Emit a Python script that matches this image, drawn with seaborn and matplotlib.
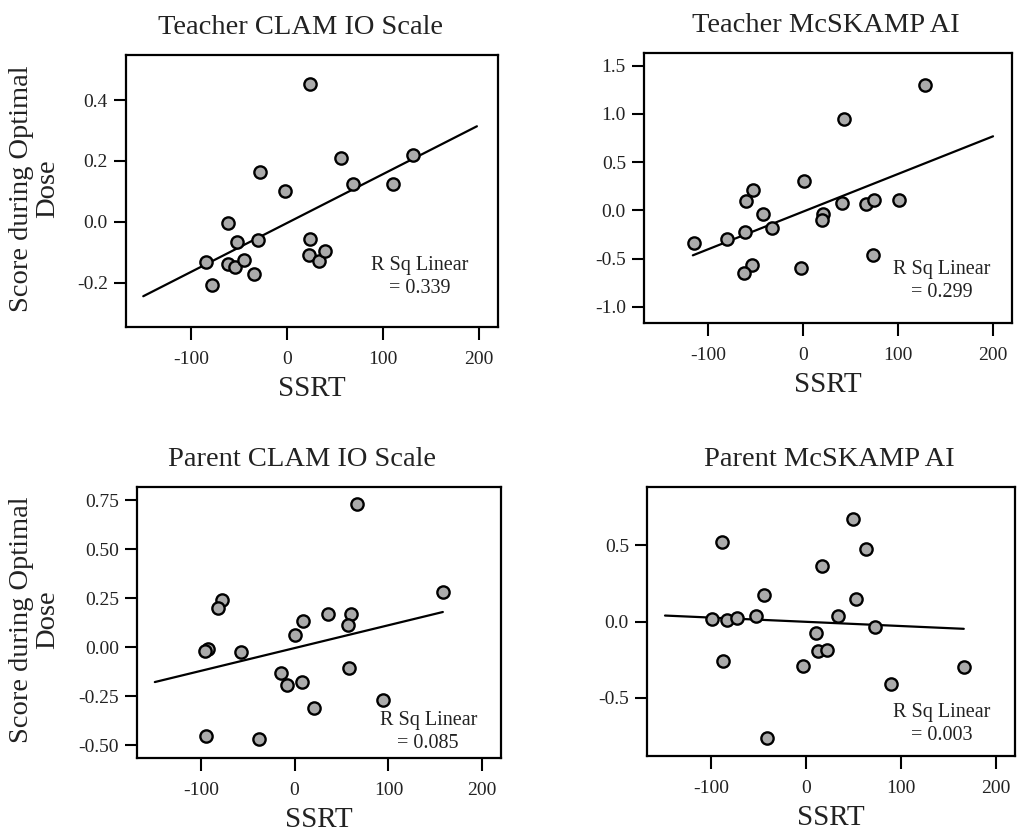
import numpy as np
import pandas as pd
import matplotlib
matplotlib.use("Agg")
import matplotlib.pyplot as plt
import seaborn as sns

# ---------------- data ----------------
titles = ["Teacher CLAM IO Scale", "Teacher McSKAMP AI",
          "Parent CLAM IO Scale", "Parent McSKAMP AI"]
r2_labels = ["0.339", "0.299", "0.085", "0.003"]

tc_x = [24, 131, 56, -28, -2, 69, 111, -62, -52, -30, 24, -85, -62, -54, -45, -35, -78, 23, 33, 40]
tc_y = [0.454, 0.221, 0.211, 0.164, 0.102, 0.124, 0.126, -0.003, -0.066, -0.058, -0.055,
        -0.131, -0.137, -0.148, -0.126, -0.170, -0.206, -0.109, -0.129, -0.095]

tm_x = [128, 43, 1, -53, -60, -43, -33, -61, -80, -115, 21, 20, 41, 66, 75, 101, 73, -54, -63, -2]
tm_y = [1.302, 0.950, 0.300, 0.214, 0.097, -0.035, -0.180, -0.224, -0.293, -0.338, -0.035,
        -0.104, 0.079, 0.069, 0.104, 0.104, -0.466, -0.570, -0.649, -0.597]

pc_x = [67, 158, -77, -82, 9, 0, 36, 60, 57, -92, -96, -57, -14, -8, 8, 58, 21, 94, -94, -38]
pc_y = [0.732, 0.282, 0.243, 0.200, 0.132, 0.065, 0.170, 0.170, 0.115, -0.007, -0.020, -0.024,
        -0.131, -0.194, -0.177, -0.105, -0.309, -0.267, -0.453, -0.467]

pm_x = [49, -89, 63, 16, -45, 52, 33, -99, -84, -73, -53, 72, 10, 12, 22, -88, -4, 166, 89, -41]
pm_y = [0.672, 0.521, 0.475, 0.361, 0.175, 0.147, 0.039, 0.015, 0.011, 0.026, 0.033, -0.039,
        -0.077, -0.193, -0.186, -0.258, -0.291, -0.298, -0.411, -0.762]

# fitted linear lines (end points)
tc_fit_x, tc_fit_y = [-150, 198], [-0.244, 0.314]
tm_fit_x, tm_fit_y = [-116.5, 200], [-0.466, 0.767]
pc_fit_x, pc_fit_y = [-149, 158], [-0.177, 0.180]
pm_fit_x, pm_fit_y = [-149, 166], [0.039, -0.048]

x_ticks = [-100, 0, 100, 200]
tc_yticks = [-0.2, 0.0, 0.2, 0.4]
tm_yticks = [-1.0, -0.5, 0.0, 0.5, 1.0, 1.5]
pc_yticks = [-0.50, -0.25, 0.00, 0.25, 0.50, 0.75]
pm_yticks = [-0.5, 0.0, 0.5]

# ---------------- style ----------------
sns.set_theme(style="ticks")
plt.rcParams["font.family"] = ["Liberation Serif", "DejaVu Serif"]
plt.rcParams["axes.unicode_minus"] = False

W, H = 1026, 839
fig = plt.figure(figsize=(W / 100, H / 100), dpi=100)
fig.patch.set_facecolor("white")

def px_axes(l, t, r, b):
    return fig.add_axes([l / W, 1 - b / H, (r - l) / W, (b - t) / H])

panels = [
    dict(box=(126, 55, 498, 327), x=tc_x, y=tc_y, fx=tc_fit_x, fy=tc_fit_y,
         ylim=(-0.345, 0.548), yt=tc_yticks, fmt="%.1f", tx=0.468, rx=0.79, ry=0.185, ylab=True),
    dict(box=(644, 53, 1012, 323), x=tm_x, y=tm_y, fx=tm_fit_x, fy=tm_fit_y,
         ylim=(-1.167, 1.63), yt=tm_yticks, fmt="%.1f", tx=0.495, rx=0.81, ry=0.155, ylab=False),
    dict(box=(137, 487, 501, 758), x=pc_x, y=pc_y, fx=pc_fit_x, fy=pc_fit_y,
         ylim=(-0.564, 0.817), yt=pc_yticks, fmt="%.2f", tx=0.453, rx=0.80, ry=0.095, ylab=True),
    dict(box=(647, 487, 1015, 756), x=pm_x, y=pm_y, fx=pm_fit_x, fy=pm_fit_y,
         ylim=(-0.882, 0.882), yt=pm_yticks, fmt="%.1f", tx=0.495, rx=0.80, ry=0.12, ylab=False),
]

for i, p in enumerate(panels):
    ax = px_axes(*p["box"])
    df = pd.DataFrame({"SSRT": p["x"], "score": p["y"]})
    fit = pd.DataFrame({"SSRT": p["fx"], "score": p["fy"]})
    sns.lineplot(data=fit, x="SSRT", y="score", ax=ax, color="black", linewidth=1.6, zorder=2)
    sns.scatterplot(data=df, x="SSRT", y="score", ax=ax, s=78, color="#ababab",
                    edgecolor="black", linewidth=1.7, zorder=3)
    ax.set_xlim(-168, 220)
    ax.set_ylim(*p["ylim"])
    ax.set_xticks(x_ticks)
    ax.set_xticklabels([str(v) for v in x_ticks])
    ax.set_yticks(p["yt"])
    ax.set_yticklabels([p["fmt"] % v for v in p["yt"]])
    ax.tick_params(axis="both", direction="out", length=9, width=1.5, color="black",
                   labelsize=14, labelcolor="#222222")
    ax.tick_params(axis="x", pad=8)
    ax.tick_params(axis="y", pad=4)
    for s in ax.spines.values():
        s.set_visible(True)
        s.set_color("black")
        s.set_linewidth(1.6)
    ax.set_title(titles[i], fontsize=20.5, x=p["tx"], pad=15, color="#222222")
    ax.set_xlabel("SSRT", fontsize=21, labelpad=6, color="#222222")
    if p["ylab"]:
        ax.set_ylabel("Score during Optimal\nDose", fontsize=20.5, color="#222222",
                      linespacing=1.05)
        l = p["box"][0]
        w = p["box"][2] - p["box"][0]
        ax.yaxis.set_label_coords((60 - l) / w, 0.51)
    else:
        ax.set_ylabel("")
    ax.text(p["rx"], p["ry"], "R Sq Linear\n= " + r2_labels[i], transform=ax.transAxes,
            ha="center", va="center", fontsize=14.5, color="#222222", linespacing=1.3)

fig.savefig("out.png", dpi=100, facecolor="white")
